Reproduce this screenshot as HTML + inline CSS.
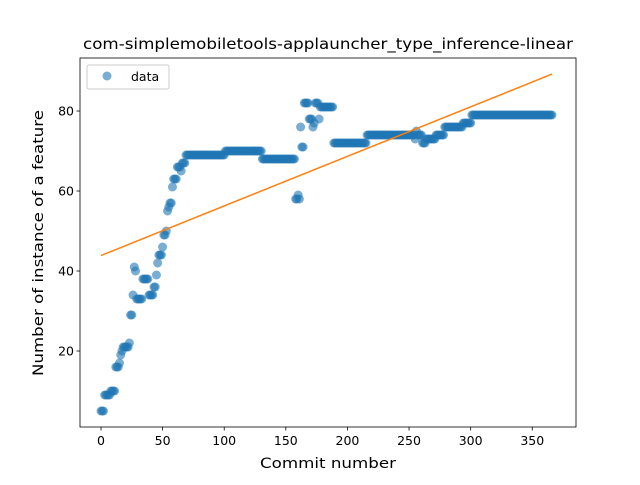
<!DOCTYPE html>
<html><head><meta charset="utf-8"><style>
body{margin:0;background:#fff}
svg{font-family:"DejaVu Sans","Liberation Sans",sans-serif}
</style></head><body>
<svg id="c" width="640" height="480" xmlns="http://www.w3.org/2000/svg"></svg>
<script>
const runValues=[5,9,10,16,17,19,20,21,22,29,34,41,40,33,38,34,36,39,42,44,46,49,50,55,56,57,61,63,66,65,67,69,70,68,58,59,58,76,71,82,78,76,77,82,78,81,72,74,73,75,74,72,73,74,76,77,79];
const runCounts=[3,5,4,3,1,1,1,5,1,2,1,1,1,5,5,4,2,1,1,3,1,2,1,1,1,2,1,3,3,1,3,32,30,27,2,1,1,1,2,4,3,1,1,3,1,11,27,39,1,1,4,3,8,7,15,7,66];
const xTicks=[0,50,100,150,200,250,300,350];
const yTicks=[20,40,60,80];
const title="com-simplemobiletools-applauncher_type_inference-linear";

const values=[];
runValues.forEach((v,i)=>{for(let k=0;k<runCounts[i];k++)values.push(v);});
const L=80,R=576,T=58,B=427;
const xmin=-17.05,xmax=385.5,ymin=1,ymax=93.25;
const X=v=>L+(v-xmin)/(xmax-xmin)*(R-L);
const Y=v=>B-(v-ymin)/(ymax-ymin)*(B-T);
const svg=document.getElementById('c');
const NS='http://www.w3.org/2000/svg';
function mk(tag,attrs,parent){const e=document.createElementNS(NS,tag);for(const k in attrs)e.setAttribute(k,attrs[k]);(parent||svg).appendChild(e);return e;}

const pts=mk('g',{});


values.forEach((v,i)=>{
  const c=mk('circle',{cx:X(i),cy:Y(v),r:4.5,fill:'#1f77b4','fill-opacity':0.6},pts);
  
  
});
const n=values.length;let sx=0,sy=0,sxx=0,sxy=0;
values.forEach((v,i)=>{sx+=i;sy+=v;sxx+=i*i;sxy+=i*v;});
const b=(n*sxy-sx*sy)/(n*sxx-sx*sx),a=(sy-b*sx)/n;
const ln=mk('line',{x1:X(0),y1:Y(a),x2:X(n-1),y2:Y(a+b*(n-1)),stroke:'#ff7f0e','stroke-width':1.5});



const frame=mk('rect',{x:L,y:T,width:R-L,height:B-T,fill:'none',stroke:'#000','stroke-width':0.8});


xTicks.forEach(t=>{
  mk('line',{x1:X(t),x2:X(t),y1:B,y2:B+3.5,stroke:'#000','stroke-width':0.8});
  const tx=mk('text',{x:X(t),y:B+18,'font-size':12.5,'text-anchor':'middle'});tx.textContent=t;
  
  
});
yTicks.forEach(t=>{
  mk('line',{x1:L-3.5,x2:L,y1:Y(t),y2:Y(t),stroke:'#000','stroke-width':0.8});
  const tx=mk('text',{x:L-6,y:Y(t)+4.5,'font-size':12.5,'text-anchor':'end'});tx.textContent=t;
  
  
});
const tt=mk('text',{x:(L+R)/2,y:49,'font-size':15.5,'text-anchor':'middle',textLength:490,lengthAdjust:'spacingAndGlyphs'});tt.textContent=title;


const xl=mk('text',{x:(L+R)/2,y:468,'font-size':14.5,'text-anchor':'middle',textLength:136,lengthAdjust:'spacingAndGlyphs'});xl.textContent='Commit number';


const yl=mk('text',{x:0,y:0,'font-size':14.5,'text-anchor':'middle',textLength:266,lengthAdjust:'spacingAndGlyphs',transform:'translate(43,243) rotate(-90)'});yl.textContent='Number of instance of a feature';


const lg=mk('g',{});


mk('rect',{x:87,y:65,width:82,height:24,rx:2,fill:'#fff','fill-opacity':0.8,stroke:'#ccc'},lg);
mk('circle',{cx:107,cy:76,r:4.5,fill:'#1f77b4','fill-opacity':0.6},lg);
const lt=mk('text',{x:131,y:81,'font-size':12.5},lg);lt.textContent='data';


</script>
</body></html>
